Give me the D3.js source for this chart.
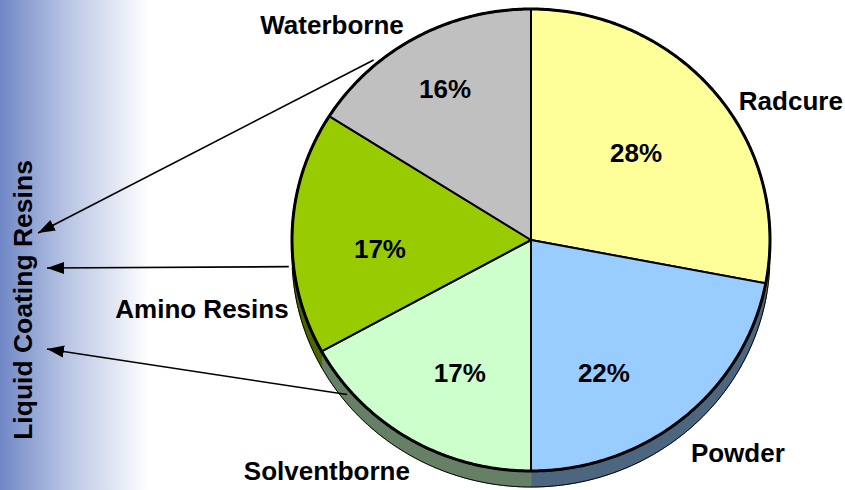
<!DOCTYPE html>
<html>
<head>
<meta charset="utf-8">
<script src="https://cdn.jsdelivr.net/npm/d3@7"></script>
<style>
  html, body { margin: 0; padding: 0; background: #fff; }
  svg { display: block; }
  text { font-family: "Liberation Sans", Arial, sans-serif; font-weight: bold; fill: #000; }
</style>
</head>
<body>
<svg id="chart" width="845" height="490"></svg>
<script>
// data
const categories = ["Radcure", "Powder", "Solventborne", "Amino Resins", "Waterborne"];
const shares = [28, 22, 17, 17, 16];
const colors = ["#FFFF99", "#99CCFF", "#CCFFCC", "#99CC00", "#C0C0C0"];
const groupTitle = "Liquid Coating Resins";
const liquidTypes = ["Waterborne", "Amino Resins", "Solventborne"];

const width = 845, height = 490;
const cx = 531, cy = 240, rx = 239, ry = 231, depth = 16;

// label layout: angle shift from slice middle (deg) and radius factor
const pctLayout = [[-1.1, 0.58], [11.6, 0.65], [-3.1, 0.645], [-5, 0.633], [0, 0.746]];
const nameLayout = [[10.6, 1.243], [-3.7, 1.262], [9.9, 1.315], [-13.9, 1.408], [-13, 1.249]];
// arrows: start angle shift on the rim, tip y next to the vertical title
const arrowStart = { "Waterborne": -11.4, "Amino Resins": -8.3, "Solventborne": 18.4 };
const arrowTipY = { "Waterborne": 233, "Amino Resins": 268, "Solventborne": 349 };

const svg = d3.select("#chart");
const defs = svg.append("defs");

const grad = defs.append("linearGradient").attr("id", "bg")
    .attr("x1", 0).attr("x2", 1).attr("y1", 0).attr("y2", 0);
grad.append("stop").attr("offset", "0%").attr("stop-color", "#6F87C5");
grad.append("stop").attr("offset", "45%").attr("stop-color", "#B9C5E4");
grad.append("stop").attr("offset", "100%").attr("stop-color", "#FFFFFF");

defs.append("marker").attr("id", "head")
    .attr("viewBox", "0 -7 18 14")
    .attr("markerUnits", "userSpaceOnUse")
    .attr("markerWidth", 18).attr("markerHeight", 14)
    .attr("refX", 17).attr("refY", 0)
    .attr("orient", "auto")
  .append("path").attr("d", "M0,-6L17,0L0,6Z").attr("fill", "#000");

svg.append("rect").attr("x", 0).attr("y", 0).attr("width", 150).attr("height", height)
    .attr("fill", "url(#bg)");

const pie = d3.pie().sort(null).value(d => d)(shares);
const toRad = Math.PI / 180;

// point on the (tilted) pie ellipse, angle clockwise from 12 o'clock
function pt(a, r, dy = 0) {
    return [cx + r * rx * Math.sin(a), cy - r * ry * Math.cos(a) + dy];
}
const line = d3.line();
function arcPts(a0, a1, dy) {
    const n = Math.max(2, Math.ceil((a1 - a0) / 0.01));
    return d3.range(n + 1).map(i => pt(a0 + (a1 - a0) * i / n, 1, dy));
}

function shade(c) {
    const k = d3.rgb(c);
    return d3.rgb(k.r * 0.5, k.g * 0.5, k.b * 0.5).toString();
}

// side walls (only the front half is visible)
const sides = svg.append("g");
pie.forEach((d, i) => {
    const a0 = Math.max(d.startAngle, Math.PI / 2);
    const a1 = Math.min(d.endAngle, 3 * Math.PI / 2);
    if (a1 <= a0) return;
    const top = arcPts(a0, a1, 0);
    const bot = arcPts(a0, a1, depth).reverse();
    sides.append("path")
        .attr("d", line(top.concat(bot)) + "Z")
        .attr("fill", shade(colors[i]))
        .attr("stroke", shade(colors[i]))
        .attr("stroke-width", 1);
});
// outline under the front wall
sides.append("path")
    .attr("d", line(arcPts(Math.PI / 2 + 0.05, 3 * Math.PI / 2 - 0.05, depth)))
    .attr("fill", "none").attr("stroke", "#000").attr("stroke-width", 1);

// top faces
const faces = svg.append("g");
pie.forEach((d, i) => {
    const pts = [[cx, cy]].concat(arcPts(d.startAngle, d.endAngle, 0));
    faces.append("path")
        .attr("d", line(pts) + "Z")
        .attr("fill", colors[i])
        .attr("stroke", "#000")
        .attr("stroke-width", 2)
        .attr("stroke-linejoin", "round");
});
faces.append("path")
    .attr("d", line(arcPts(0, 2 * Math.PI, 0)) + "Z")
    .attr("fill", "none").attr("stroke", "#000").attr("stroke-width", 3);

// percent labels
const total = d3.sum(shares);
svg.append("g").selectAll("text")
    .data(pie)
    .join("text")
    .attr("font-size", 26)
    .attr("text-anchor", "middle")
    .attr("dy", "0.36em")
    .attr("x", (d, i) => pt((d.startAngle + d.endAngle) / 2 + pctLayout[i][0] * toRad, pctLayout[i][1])[0])
    .attr("y", (d, i) => pt((d.startAngle + d.endAngle) / 2 + pctLayout[i][0] * toRad, pctLayout[i][1])[1])
    .text(d => Math.round(d.value / total * 100) + "%");

// category labels
svg.append("g").selectAll("text")
    .data(pie)
    .join("text")
    .attr("font-size", 26)
    .attr("text-anchor", "middle")
    .attr("dy", "0.36em")
    .attr("x", (d, i) => pt((d.startAngle + d.endAngle) / 2 + nameLayout[i][0] * toRad, nameLayout[i][1])[0])
    .attr("y", (d, i) => pt((d.startAngle + d.endAngle) / 2 + nameLayout[i][0] * toRad, nameLayout[i][1])[1])
    .text((d, i) => categories[i]);

// arrows to the group title
const arrows = svg.append("g");
liquidTypes.forEach(name => {
    const d = pie[categories.indexOf(name)];
    const s = pt((d.startAngle + d.endAngle) / 2 + arrowStart[name] * toRad, 1.02);
    const tipX = name === "Waterborne" ? 38 : 47;
    arrows.append("line")
        .attr("x1", s[0]).attr("y1", s[1])
        .attr("x2", tipX).attr("y2", arrowTipY[name])
        .attr("stroke", "#000").attr("stroke-width", 1.6)
        .attr("marker-end", "url(#head)");
});

svg.append("text")
    .attr("transform", "translate(32,300) rotate(-90)")
    .attr("text-anchor", "middle")
    .attr("font-size", 26.5)
    .text(groupTitle);
</script>
</body>
</html>
